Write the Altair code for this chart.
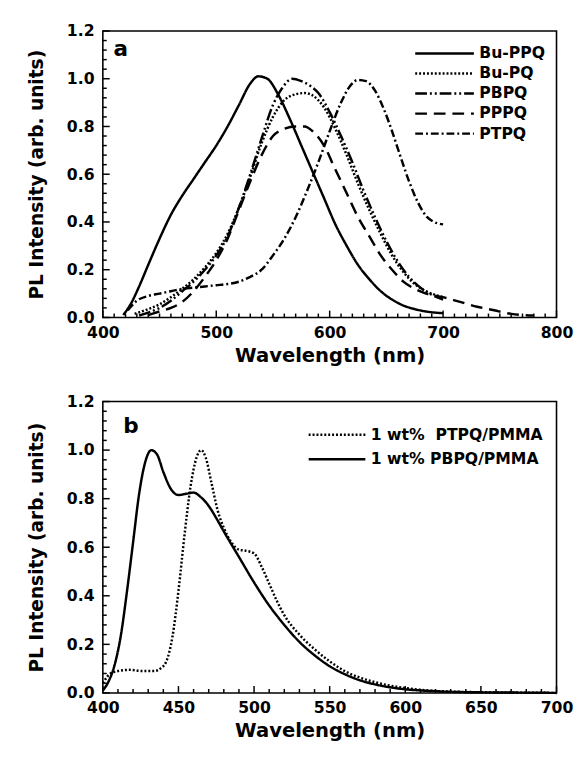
import altair as alt
import pandas as pd

# ---------------- Panel a data ----------------
a_series = ["Bu-PPQ", "Bu-PQ", "PBPQ", "PPPQ", "PTPQ"]

bu_ppq_x = [418, 425, 432, 440, 450, 460, 470, 480, 490, 500, 510, 520, 530, 537, 545, 555, 565, 575,
            585, 595, 605, 615, 625, 635, 645, 655, 665, 675, 685, 700]
bu_ppq_y = [0.01, 0.06, 0.13, 0.22, 0.33, 0.43, 0.51, 0.58, 0.65, 0.72, 0.80, 0.89, 0.98, 1.01, 1.0,
            0.93, 0.83, 0.72, 0.61, 0.50, 0.39, 0.30, 0.22, 0.16, 0.11, 0.075, 0.05, 0.035, 0.025, 0.018]

bu_pq_x = [428, 440, 450, 460, 470, 480, 490, 500, 510, 520, 530, 540, 550, 560, 570, 578, 585, 595,
           605, 615, 625, 635, 645, 655, 665, 675, 685, 700]
bu_pq_y = [0.015, 0.035, 0.055, 0.085, 0.12, 0.16, 0.21, 0.27, 0.35, 0.46, 0.59, 0.73, 0.84, 0.91,
           0.935, 0.94, 0.93, 0.88, 0.79, 0.68, 0.56, 0.45, 0.35, 0.26, 0.19, 0.14, 0.11, 0.085]

pbpq_x = [432, 440, 450, 460, 470, 480, 490, 500, 510, 520, 530, 540, 550, 558, 567, 575, 583, 590,
          600, 610, 620, 630, 640, 650, 660, 670, 680, 690, 700]
pbpq_y = [0.008, 0.02, 0.04, 0.07, 0.11, 0.15, 0.20, 0.26, 0.34, 0.46, 0.60, 0.75, 0.89, 0.96, 1.0,
          0.99, 0.97, 0.94, 0.86, 0.76, 0.65, 0.53, 0.42, 0.32, 0.235, 0.17, 0.125, 0.095, 0.075]

pppq_x = [440, 450, 460, 470, 480, 490, 500, 510, 520, 530, 540, 550, 560, 570, 578, 585, 595, 605,
          615, 625, 635, 645, 655, 665, 675, 685, 700, 715, 730, 745, 760, 780]
pppq_y = [0.01, 0.025, 0.04, 0.065, 0.11, 0.17, 0.24, 0.33, 0.45, 0.57, 0.68, 0.76, 0.79, 0.80, 0.80,
          0.78, 0.72, 0.62, 0.52, 0.42, 0.34, 0.26, 0.20, 0.15, 0.12, 0.10, 0.085, 0.065, 0.045, 0.03,
          0.015, 0.008]

ptpq_x = [422, 430, 440, 450, 460, 470, 480, 490, 500, 510, 520, 530, 540, 550, 560, 570, 580, 590,
          600, 610, 618, 625, 632, 640, 648, 655, 662, 670, 678, 686, 692, 700]
ptpq_y = [0.03, 0.07, 0.09, 0.10, 0.11, 0.12, 0.125, 0.13, 0.135, 0.14, 0.15, 0.17, 0.20, 0.26, 0.33,
          0.42, 0.53, 0.65, 0.78, 0.90, 0.97, 0.995, 0.99, 0.95, 0.87, 0.78, 0.68, 0.57, 0.48, 0.42,
          0.40, 0.39]

# ---------------- Panel b data ----------------
b_series = ["1 wt%\u00a0 PTPQ/PMMA", "1 wt% PBPQ/PMMA"]

ptpq_pmma_x = [400, 405, 410, 418, 426, 434, 438, 442, 446, 450, 454, 458, 462, 465, 468, 472, 476,
               480, 485, 490, 495, 500, 505, 510, 515, 520, 530, 540, 550, 560, 570, 580, 590, 600,
               620, 640, 660, 680, 700]
ptpq_pmma_y = [0.04, 0.08, 0.09, 0.095, 0.09, 0.09, 0.10, 0.13, 0.23, 0.42, 0.65, 0.85, 0.97, 1.0,
               0.97, 0.86, 0.75, 0.68, 0.62, 0.59, 0.585, 0.575, 0.52, 0.45, 0.38, 0.32, 0.24, 0.18,
               0.13, 0.09, 0.063, 0.044, 0.03, 0.02, 0.008, 0.004, 0.002, 0.001, 0.0]

pbpq_pmma_x = [400, 404, 408, 412, 416, 420, 424, 428, 432, 436, 440, 445, 450, 455, 460, 465, 470,
               475, 480, 490, 500, 510, 520, 530, 540, 550, 560, 570, 580, 590, 600, 620, 640, 660,
               680, 700]
pbpq_pmma_y = [0.01, 0.05, 0.12, 0.24, 0.42, 0.62, 0.82, 0.95, 1.0, 0.98, 0.91, 0.84, 0.815, 0.82,
               0.825, 0.805, 0.77, 0.72, 0.665, 0.56, 0.455, 0.36, 0.28, 0.21, 0.155, 0.11, 0.077,
               0.052, 0.035, 0.023, 0.015, 0.007, 0.003, 0.002, 0.001, 0.0]

# tick positions (major + minor)
x_ticks_a = list(range(400, 801, 10))
x_ticks_b = list(range(400, 701, 10))
y_ticks = [round(i * 0.04, 2) for i in range(31)]


def long_df(names, xs, ys):
    rows = []
    for n, xx, yy in zip(names, xs, ys):
        for i, (a, b) in enumerate(zip(xx, yy)):
            rows.append({"series": n, "wl": a, "pl": b, "i": i})
    return pd.DataFrame(rows)


df_a = long_df(a_series, [bu_ppq_x, bu_pq_x, pbpq_x, pppq_x, ptpq_x],
               [bu_ppq_y, bu_pq_y, pbpq_y, pppq_y, ptpq_y])
df_b = long_df(b_series, [ptpq_pmma_x, pbpq_pmma_x], [ptpq_pmma_y, pbpq_pmma_y])

MAJOR_LEN, MINOR_LEN = 7, 4


def y_major(v):
    return abs(v * 5 - round(v * 5)) < 1e-6


FONT = "DejaVu Sans"


def x_axis(vals, major):
    test = f"datum.value % {major} === 0"
    return alt.Axis(
        values=vals, title="Wavelength (nm)", domain=False, ticks=False, tickSize=0,
        labelExpr=f"{test} ? datum.label : ''",
        format="d", labelPadding=7, grid=False, zindex=0,
        labelFont=FONT, labelFontSize=16, labelFontWeight="bold", labelColor="black",
        titleFont=FONT, titleFontSize=20, titleFontWeight="bold", titleColor="black",
        titlePadding=6, labelFlush=False,
    )


y_axis = alt.Axis(
    values=y_ticks, title="PL Intensity (arb. units)", domain=False, ticks=False, tickSize=0,
    labelExpr="abs(datum.value*5 - round(datum.value*5)) < 0.001 ? format(datum.value, '.1f') : ''",
    labelPadding=9, grid=False, zindex=0,
    labelFont=FONT, labelFontSize=16, labelFontWeight="bold", labelColor="black",
    titleFont=FONT, titleFontSize=19, titleFontWeight="bold", titleColor="black",
    titlePadding=20,
)

legend_common = dict(
    title=None, orient="none", symbolType="stroke", symbolStrokeColor="black",
    symbolStrokeWidth=2.5, labelFont=FONT, labelFontWeight="bold", labelColor="black",
    padding=0, labelOffset=4, labelLimit=400,
)


def panel(df, series, dashes, xdom, xvals, xmajor, legend, title, width, height):
    xs = alt.Scale(domain=xdom, nice=False)
    ys = alt.Scale(domain=[0, 1.2], nice=False)
    xa = x_axis(xvals, xmajor)
    lines = alt.Chart(df).mark_line(color="black", strokeWidth=2.5, interpolate="monotone").encode(
        x=alt.X("wl:Q", scale=xs, axis=xa),
        y=alt.Y("pl:Q", scale=ys, axis=y_axis),
        strokeDash=alt.StrokeDash("series:N", scale=alt.Scale(domain=series, range=dashes),
                                  sort=series, legend=legend),
        order="i:Q",
    )
    layers = [lines]
    for major, ln in ((True, MAJOR_LEN), (False, MINOR_LEN)):
        xv = [v for v in xvals if (v % xmajor == 0) == major]
        yv = [v for v in y_ticks if y_major(v) == major]
        layers.append(
            alt.Chart(pd.DataFrame({"wl": xv})).mark_tick(
                color="black", thickness=1.5, orient="vertical", size=ln, yOffset=-ln / 2,
                opacity=1
            ).encode(
                x=alt.X("wl:Q", scale=xs, axis=xa),
                y=alt.YDatum(0, type="quantitative", scale=ys, axis=y_axis),
            )
        )
        layers.append(
            alt.Chart(pd.DataFrame({"pl": yv})).mark_tick(
                color="black", thickness=1.5, orient="horizontal", size=ln, xOffset=ln / 2,
                opacity=1
            ).encode(
                y=alt.Y("pl:Q", scale=ys, axis=y_axis),
                x=alt.XDatum(xdom[0], type="quantitative", scale=xs, axis=xa),
            )
        )
    return alt.layer(*layers, title=title).properties(width=width, height=height)


title_a = alt.TitleParams("a", anchor="start", frame="group", offset=-56, dx=11, fontSize=22,
                          font=FONT, fontWeight="bold", baseline="alphabetic", color="black")
title_b = alt.TitleParams("b", anchor="start", frame="group", offset=-62, dx=21, fontSize=22,
                          font=FONT, fontWeight="bold", baseline="alphabetic", color="black")

chart_a = panel(
    df_a, a_series, [[1, 0], [2, 2], [12, 3, 2, 3, 2, 3], [12, 7], [8, 3, 2, 3]],
    [400, 800], x_ticks_a, 100,
    alt.Legend(legendX=318, legendY=15, symbolSize=3600, clipHeight=16,
               rowPadding=4.5, labelFontSize=16, **legend_common),
    title_a, 464, 293)

chart_b = panel(
    df_b, b_series, [[2, 2], [1, 0]],
    [400, 700], x_ticks_b, 50,
    alt.Legend(legendX=209, legendY=26, symbolSize=3364, clipHeight=16,
               rowPadding=9, labelFontSize=16, **legend_common),
    title_b, 464, 298)

chart = alt.vconcat(chart_a, chart_b, spacing=27).resolve_scale(
    x="independent", strokeDash="independent"
).resolve_legend(strokeDash="independent").configure_view(
    stroke="black", strokeWidth=1.6, fill="transparent"
).properties(
    padding={"top": 6, "left": 19, "right": 5, "bottom": 5}, background="white"
)

chart.save("out.html", embed_options={"renderer": "svg", "actions": False})
